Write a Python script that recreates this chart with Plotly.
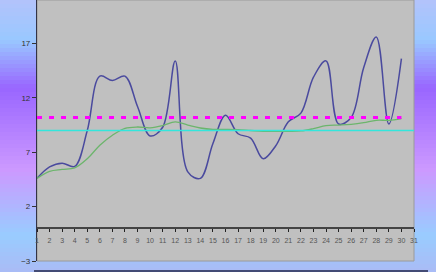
import plotly.graph_objects as go

# ---- data ----
days = list(range(1, 31))
values = [4.6, 5.65, 6.0, 5.7, 9.0, 14.0, 13.6, 14.0, 11.2, 8.5,
          9.3, 15.4, 5.2, 4.6, 7.8, 10.4, 8.7, 8.3, 6.4, 7.6,
          9.8, 10.6, 13.9, 15.4, 9.6, 10.2, 14.8, 17.6, 9.6, 15.6]
running_avg = [4.6, 5.25, 5.42, 5.56, 6.4, 7.64, 8.56, 9.2, 9.32, 9.25,
               9.45, 9.8, 9.5, 9.23, 9.1, 9.1, 9.08, 9.0, 8.93, 8.93,
               8.93, 8.96, 9.17, 9.45, 9.5, 9.57, 9.72, 9.94, 9.94, 10.1]
mean_level = 10.2
ref_level = 9.0
x_ticks = list(range(1, 32))
y_range = [-3, 21]
x_range = [1, 31]

W, H = 436, 272
ML, MR, MT, MB = 37, 22, 0, 11
PW = W - ML - MR
PH = H - MT - MB

fig = go.Figure()

fig.add_trace(go.Scatter(x=days, y=values, mode="lines",
                         line=dict(color="#4a4a9e", width=1.5, shape="spline", smoothing=1.0),
                         showlegend=False, hoverinfo="skip"))
fig.add_trace(go.Scatter(x=days, y=running_avg, mode="lines",
                         line=dict(color="#6cb56c", width=1.3, shape="spline", smoothing=1.0),
                         showlegend=False, hoverinfo="skip"))
fig.add_trace(go.Scatter(x=[days[0], days[-1]], y=[mean_level, mean_level], mode="lines",
                         line=dict(color="#ff00ff", width=3, dash="5px,7px"),
                         showlegend=False, hoverinfo="skip"))
fig.add_trace(go.Scatter(x=[x_range[0], x_range[1]], y=[ref_level, ref_level], mode="lines",
                         line=dict(color="#33e6dc", width=1.5),
                         showlegend=False, hoverinfo="skip"))

# ---- background gradient (paper) ----
stops = [(0, (179, 195, 251)), (40, (153, 200, 255)), (88, (153, 102, 255)),
         (170, (204, 153, 255)), (235, (153, 204, 255)), (272, (170, 187, 245))]

def col_at(py):
    for (p0, c0), (p1, c1) in zip(stops[:-1], stops[1:]):
        if p0 <= py <= p1:
            t = (py - p0) / (p1 - p0)
            return "rgb(%d,%d,%d)" % tuple(round(a + (b - a) * t) for a, b in zip(c0, c1))
    return "rgb(%d,%d,%d)" % stops[-1][1]

shapes = []
step = 4
for py in range(0, H, step):
    y_top = (PH + MT - py) / PH
    y_bot = (PH + MT - (py + step)) / PH
    shapes.append(dict(type="rect", xref="paper", yref="paper",
                       x0=-ML / PW - 0.01, x1=(W - ML) / PW + 0.01,
                       y0=y_bot - 0.002, y1=y_top,
                       fillcolor=col_at(py + step / 2), line=dict(width=0), layer="below"))

# plot area fill + border
shapes.append(dict(type="rect", xref="paper", yref="paper", x0=0, x1=1, y0=0, y1=1,
                   line=dict(color="#9a9a9a", width=1), fillcolor="#c0c0c0", layer="below"))
# dark line beneath the plot
shapes.append(dict(type="line", xref="paper", yref="paper",
                   x0=-3 / PW, x1=(428 - ML) / PW, y0=-10 / PH, y1=-10 / PH,
                   line=dict(color="#22264a", width=1.5)))

fig.update_layout(
    width=W, height=H,
    margin=dict(l=ML, r=MR, t=MT, b=MB, pad=0),
    plot_bgcolor="rgba(0,0,0,0)",
    paper_bgcolor="#aabbff",
    shapes=shapes,
    font=dict(family="Liberation Sans, Arial, sans-serif", color="#333333"),
    xaxis=dict(range=x_range, tickmode="array", tickvals=x_ticks,
               ticktext=[str(v) for v in x_ticks],
               anchor="free", position=(0 - y_range[0]) / (y_range[1] - y_range[0]),
               showline=True, linecolor="#444444", linewidth=1.5,
               ticks="outside", ticklen=3, tickcolor="#222222", tickwidth=1,
               ticklabelstandoff=2,
               tickfont=dict(size=7, color="#555555"),
               showgrid=False, zeroline=False),
    yaxis=dict(range=y_range, tick0=-3, dtick=5,
               showline=True, linecolor="#333344", linewidth=1.2,
               ticks="outside", ticklen=4, tickcolor="#333333",
               tickfont=dict(size=8, color="#333333"),
               showgrid=False, zeroline=False),
)

fig.write_html("out.html")
